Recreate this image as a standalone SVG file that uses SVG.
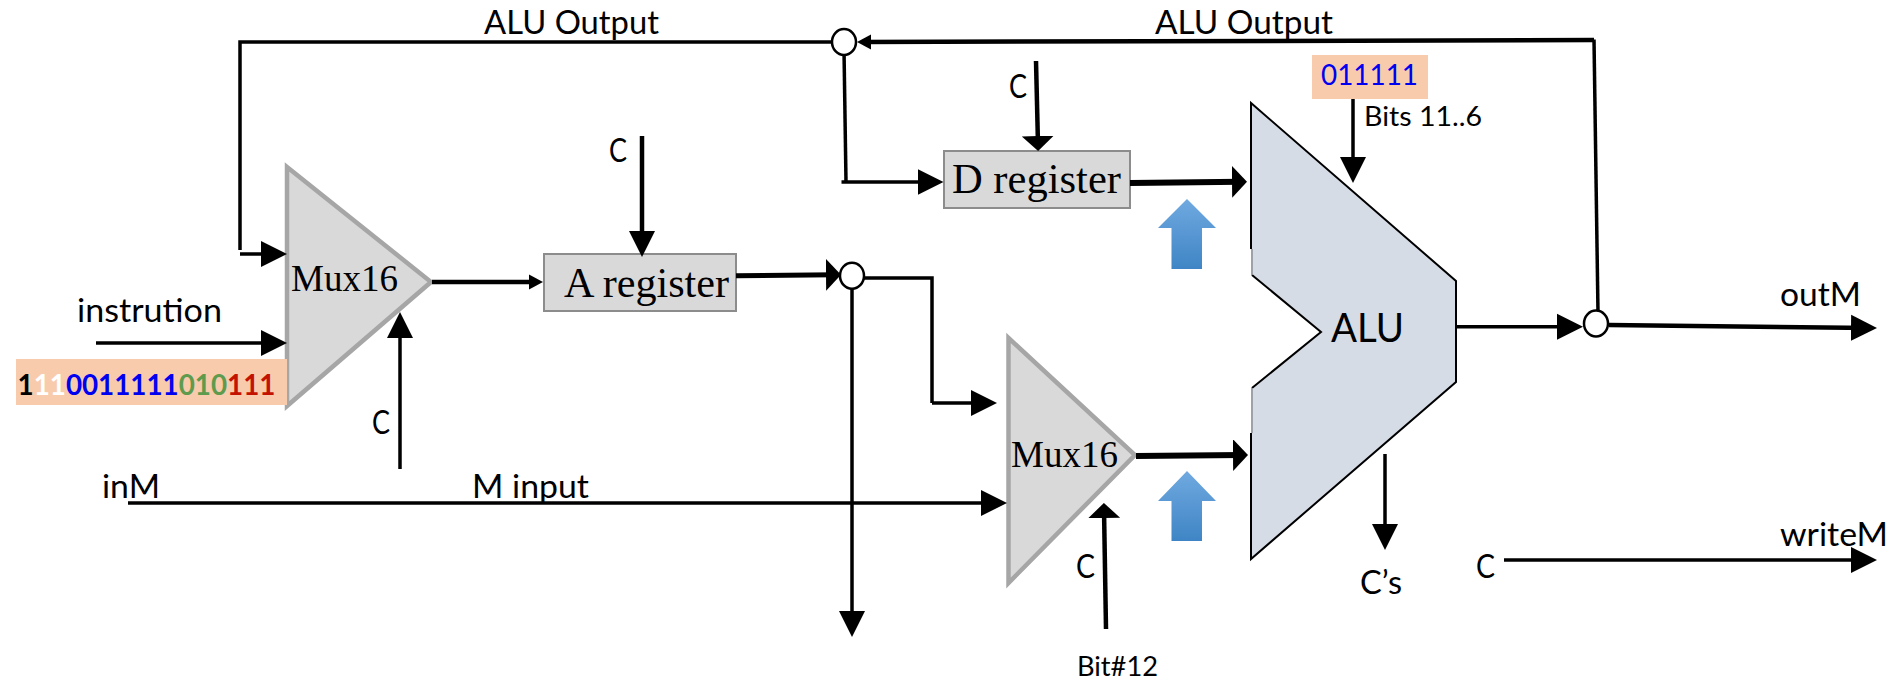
<svg xmlns="http://www.w3.org/2000/svg" width="1895" height="681" viewBox="0 0 1895 681">
<style>
text{fill:#000;font-family:"Lato","Open Sans",sans-serif;font-size:32px}
.serif{font-family:"Liberation Serif","Times New Roman",serif}
.mux{fill:#d9d9d9;stroke:#a6a6a6;stroke-width:4.5;stroke-linejoin:miter}
.reg{fill:#d9d9d9;stroke:#8c8c8c;stroke-width:2}
.join{fill:#fff;stroke:#000;stroke-width:2.5}
.peach{fill:#f8cbad}
.bits{font-weight:700;font-size:28px}
.wire{fill:none;stroke:#000;stroke-width:3.5}
.w4{stroke-width:4.5}
.thick{stroke-width:6}
.big{marker-end:url(#head)}
.med{marker-end:url(#headWide)}
.tiny{marker-end:url(#headSmall)}
.blue{fill:url(#blueGrad)}
</style>
<defs>
<marker id="head" markerUnits="userSpaceOnUse" markerWidth="27" markerHeight="28" refX="20" refY="14" orient="auto"><path d="M0 1L26 14L0 27Z" fill="#000"/></marker>
<marker id="headWide" markerUnits="userSpaceOnUse" markerWidth="16" markerHeight="34" refX="9" refY="17" orient="auto"><path d="M0 1L15 17L0 33Z" fill="#000"/></marker>
<marker id="headSmall" markerUnits="userSpaceOnUse" markerWidth="15" markerHeight="16" refX="8" refY="8" orient="auto"><path d="M0 0.5L14 8L0 15.5Z" fill="#000"/></marker>
<linearGradient id="blueGrad" x1="0" y1="0" x2="0" y2="1"><stop offset="0" stop-color="#70a9e0"/><stop offset="1" stop-color="#3f85c5"/></linearGradient>
</defs>

<g id="alu">
<polygon points="1251,103 1456,281 1456,382 1251,559 1251,388 1321,332 1251,275" fill="#d6dce5"/>
<path d="M1251 249V103L1456 281V382L1251 559V433M1252 388L1321 332L1252 275" fill="none" stroke="#000" stroke-width="2"/>
<path d="M1252 249V275M1252 388V433" fill="none" stroke="#8a8f96" stroke-width="1.5"/>
<text x="1331" y="342" style="font-size:41px" textLength="73" lengthAdjust="spacingAndGlyphs">ALU</text>
</g>

<g id="mux-a">
<polygon class="mux" points="287,167 431,282 287,406"/>
<text class="serif" x="291" y="291" style="font-size:38px" textLength="107" lengthAdjust="spacingAndGlyphs">Mux16</text>
</g>
<g id="mux-b">
<polygon class="mux" points="1008.500,338 1135,455 1008.500,583"/>
<text class="serif" x="1011" y="467" style="font-size:38px" textLength="107" lengthAdjust="spacingAndGlyphs">Mux16</text>
</g>
<g id="a-register">
<rect class="reg" x="544" y="254" width="192" height="57"/>
<text class="serif" x="564" y="297" style="font-size:41.500px" textLength="165" lengthAdjust="spacingAndGlyphs">A register</text>
</g>
<g id="d-register">
<rect class="reg" x="944" y="151" width="186" height="57"/>
<text class="serif" x="952" y="193" style="font-size:42.500px" textLength="169" lengthAdjust="spacingAndGlyphs">D register</text>
</g>
<g id="instruction-bits">
<rect class="peach" x="16" y="359" width="271" height="46"/>
<text class="bits" x="17.500" y="395" textLength="258" lengthAdjust="spacingAndGlyphs">1<tspan fill="#fff">11</tspan><tspan fill="#0000f0">0011111</tspan><tspan fill="#5e9b4d">010</tspan><tspan fill="#c41200">111</tspan></text>
</g>
<g id="alu-bits">
<rect class="peach" x="1312" y="55" width="116" height="44"/>
<text x="1321" y="85" style="font-size:29px;fill:#0000f0" textLength="97" lengthAdjust="spacingAndGlyphs">011111</text>
</g>
<g id="up-arrow-top"><polygon class="blue" points="1187,199 1216,228 1202,228 1202,269 1171.500,269 1171.500,228 1158,228"/></g>
<g id="up-arrow-bottom"><polygon class="blue" points="1187,471 1216,501 1202,501 1202,541 1171.500,541 1171.500,501 1158,501"/></g>

<g id="connectors">
<path class="wire" d="M832 42H240V250"/>
<path class="wire big" d="M240 254H281"/>
<path class="wire big" d="M96 343H281"/>
<path class="wire big" d="M400 469V318"/>
<path class="wire w4 tiny" d="M432 282H537"/>
<path class="wire w4 big" d="M642 136V251"/>
<path class="wire thick med" style="stroke-width:5" d="M736 275.700L835 274.700"/>
<path class="wire big" d="M128 503H1001"/>
<path class="wire big" d="M852 285V631"/>
<path class="wire" d="M860 278H932V403"/>
<path class="wire big" d="M932 403H991"/>
<path class="wire thick med" d="M1136 456L1242 455"/>
<path class="wire thick med" d="M1130 183L1241 181.700"/>
<path class="wire" d="M844 50L846 182"/>
<path class="wire big" d="M841.500 182H937.500"/>
<path class="wire w4 med" d="M1036 61L1038 145"/>
<path class="wire w4 med" d="M1106 629L1104 509"/>
<path class="wire tiny w4" d="M1594 40L863 42"/>
<path class="wire" d="M1594 39.500L1598 313"/>
<path class="wire big" d="M1353 99V177"/>
<path class="wire big" d="M1456 326.700H1577"/>
<path class="wire w4 big" d="M1609 325L1871 328"/>
<path class="wire big" d="M1385 454V544"/>
<path class="wire big" d="M1504 560H1871"/>
</g>

<g id="junction-top"><ellipse class="join" cx="844" cy="42" rx="12" ry="13"/></g>
<g id="junction-a"><ellipse class="join" cx="852" cy="275.700" rx="12" ry="13"/></g>
<g id="junction-out"><ellipse class="join" cx="1596" cy="323.500" rx="12" ry="13"/></g>

<g id="labels">
<text x="484" y="34" textLength="175" lengthAdjust="spacingAndGlyphs">ALU Output</text>
<text x="1155" y="34" textLength="178" lengthAdjust="spacingAndGlyphs">ALU Output</text>
<text x="609" y="162" textLength="18" lengthAdjust="spacingAndGlyphs">C</text>
<text x="1009" y="98" textLength="18" lengthAdjust="spacingAndGlyphs">C</text>
<text x="372" y="434" textLength="18" lengthAdjust="spacingAndGlyphs">C</text>
<text x="1076" y="578" textLength="19" lengthAdjust="spacingAndGlyphs">C</text>
<text x="1476" y="578" textLength="19" lengthAdjust="spacingAndGlyphs">C</text>
<text x="77" y="322" textLength="145" lengthAdjust="spacingAndGlyphs">instrution</text>
<text x="102" y="498" textLength="58" lengthAdjust="spacingAndGlyphs">inM</text>
<text x="472" y="498" textLength="117" lengthAdjust="spacingAndGlyphs">M input</text>
<text x="1364" y="126" style="font-size:27px" textLength="118" lengthAdjust="spacingAndGlyphs">Bits 11..6</text>
<text x="1077" y="676" style="font-size:27px" textLength="81" lengthAdjust="spacingAndGlyphs">Bit#12</text>
<text x="1360" y="594" textLength="42" lengthAdjust="spacingAndGlyphs">C’s</text>
<text x="1780" y="306" textLength="81" lengthAdjust="spacingAndGlyphs">outM</text>
<text x="1780" y="546" textLength="108" lengthAdjust="spacingAndGlyphs">writeM</text>
</g>
</svg>
